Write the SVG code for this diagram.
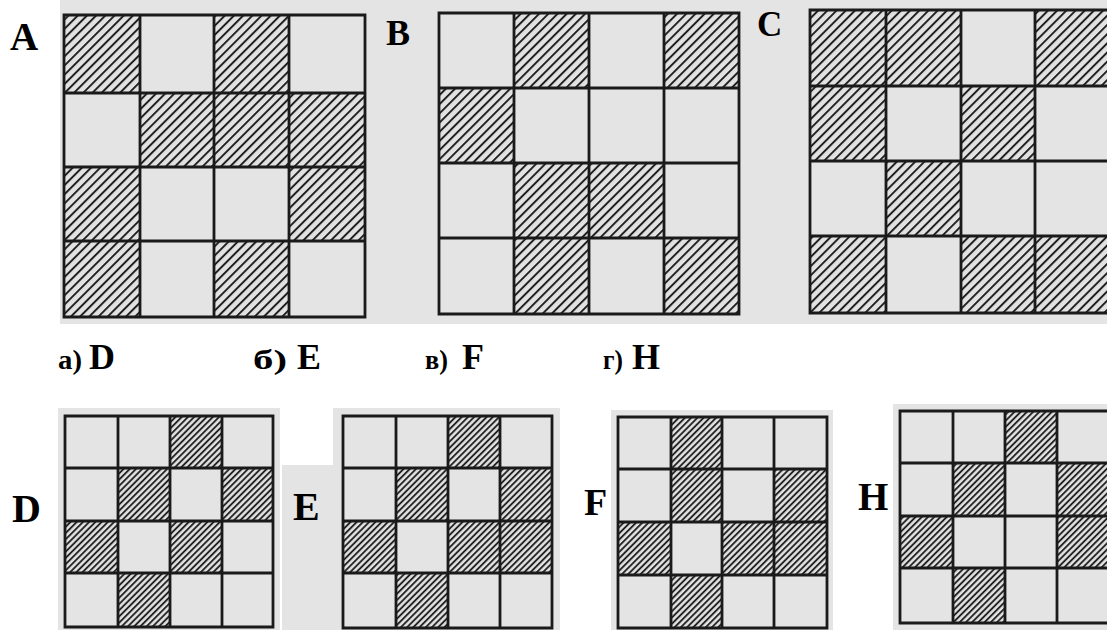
<svg xmlns="http://www.w3.org/2000/svg" width="1107" height="630" viewBox="0 0 1107 630">
<defs>
<pattern id="hatchL" width="6.5" height="6.5" patternUnits="userSpaceOnUse" patternTransform="rotate(45)">
<rect width="6.5" height="6.5" fill="#e2e2e2"/>
<line x1="1" y1="0" x2="1" y2="6.5" stroke="#1a1a1a" stroke-width="1.9"/>
</pattern>
<pattern id="hatchS" width="4.4" height="4.4" patternUnits="userSpaceOnUse" patternTransform="rotate(45)">
<rect width="4.4" height="4.4" fill="#e2e2e2"/>
<line x1="1" y1="0" x2="1" y2="4.4" stroke="#1a1a1a" stroke-width="1.8"/>
</pattern>
</defs>
<style>
.bg{fill:#e4e4e4}
.hl{fill:url(#hatchL)}
.hs{fill:url(#hatchS)}
.grid{fill:none;stroke:#1a1a1a;stroke-width:2.8}
.lbl{font-family:"Liberation Serif","Times New Roman",serif;font-weight:bold;fill:#000}
</style>
<rect width="1107" height="630" fill="#ffffff"/>
<g id="background">
<rect class="bg" x="60" y="0" width="1047" height="324"/>
<rect class="bg" x="58" y="408" width="222" height="222"/>
<path class="bg" d="M333,408H560V630H282V465H333Z"/>
<rect class="bg" x="611" y="410" width="222" height="220"/>
<rect class="bg" x="893" y="404" width="214" height="226"/>
</g>
<g id="fig-A">
<text class="lbl" x="10" y="50" font-size="39">A</text>
<rect class="hl" x="64" y="15" width="76" height="78"/>
<rect class="hl" x="214" y="15" width="75" height="78"/>
<rect class="hl" x="140" y="93" width="74" height="74"/>
<rect class="hl" x="214" y="93" width="75" height="74"/>
<rect class="hl" x="289" y="93" width="76" height="74"/>
<rect class="hl" x="64" y="167" width="76" height="74"/>
<rect class="hl" x="289" y="167" width="76" height="74"/>
<rect class="hl" x="64" y="241" width="76" height="76"/>
<rect class="hl" x="214" y="241" width="75" height="76"/>
<path class="grid" d="M64,15H365V317H64Z M140,15V317 M214,15V317 M289,15V317 M64,93H365 M64,167H365 M64,241H365"/>
</g>
<g id="fig-B">
<text class="lbl" x="386" y="45" font-size="36">B</text>
<rect class="hl" x="514" y="13" width="75" height="75"/>
<rect class="hl" x="664" y="13" width="75" height="75"/>
<rect class="hl" x="439" y="88" width="75" height="75"/>
<rect class="hl" x="514" y="163" width="75" height="75"/>
<rect class="hl" x="589" y="163" width="75" height="75"/>
<rect class="hl" x="514" y="238" width="75" height="76"/>
<rect class="hl" x="664" y="238" width="75" height="76"/>
<path class="grid" d="M439,13H739V314H439Z M514,13V314 M589,13V314 M664,13V314 M439,88H739 M439,163H739 M439,238H739"/>
</g>
<g id="fig-C">
<text class="lbl" x="757" y="36" font-size="35">C</text>
<rect class="hl" x="810" y="10" width="76" height="76"/>
<rect class="hl" x="886" y="10" width="75" height="76"/>
<rect class="hl" x="1035" y="10" width="75" height="76"/>
<rect class="hl" x="810" y="86" width="76" height="75"/>
<rect class="hl" x="961" y="86" width="74" height="75"/>
<rect class="hl" x="886" y="161" width="75" height="75"/>
<rect class="hl" x="810" y="236" width="76" height="77"/>
<rect class="hl" x="961" y="236" width="74" height="77"/>
<rect class="hl" x="1035" y="236" width="75" height="77"/>
<path class="grid" d="M810,10H1110V313H810Z M886,10V313 M961,10V313 M1035,10V313 M810,86H1110 M810,161H1110 M810,236H1110"/>
</g>
<g id="options">
<text class="lbl" x="58" y="369" font-size="28" textLength="24" lengthAdjust="spacingAndGlyphs">а)</text>
<text class="lbl" x="89" y="369" font-size="36">D</text>
<text class="lbl" x="253" y="369" font-size="28" textLength="34" lengthAdjust="spacingAndGlyphs">б)</text>
<text class="lbl" x="297" y="369" font-size="36">E</text>
<text class="lbl" x="425" y="369" font-size="28" textLength="23" lengthAdjust="spacingAndGlyphs">в)</text>
<text class="lbl" x="462" y="369" font-size="36">F</text>
<text class="lbl" x="603" y="369" font-size="28" textLength="20" lengthAdjust="spacingAndGlyphs">г)</text>
<text class="lbl" x="632" y="369" font-size="36">H</text>
</g>
<g id="fig-D">
<text class="lbl" x="12" y="522" font-size="40">D</text>
<rect class="hs" x="170" y="416" width="52" height="52"/>
<rect class="hs" x="118" y="468" width="52" height="53"/>
<rect class="hs" x="222" y="468" width="51" height="53"/>
<rect class="hs" x="65" y="521" width="53" height="52"/>
<rect class="hs" x="170" y="521" width="52" height="52"/>
<rect class="hs" x="118" y="573" width="52" height="54"/>
<path class="grid" d="M65,416H273V627H65Z M118,416V627 M170,416V627 M222,416V627 M65,468H273 M65,521H273 M65,573H273"/>
</g>
<g id="fig-E">
<text class="lbl" x="293" y="520" font-size="40">E</text>
<rect class="hs" x="448" y="416" width="52" height="52"/>
<rect class="hs" x="396" y="468" width="52" height="53"/>
<rect class="hs" x="500" y="468" width="52" height="53"/>
<rect class="hs" x="343" y="521" width="53" height="52"/>
<rect class="hs" x="448" y="521" width="52" height="52"/>
<rect class="hs" x="500" y="521" width="52" height="52"/>
<rect class="hs" x="396" y="573" width="52" height="55"/>
<path class="grid" d="M343,416H552V628H343Z M396,416V628 M448,416V628 M500,416V628 M343,468H552 M343,521H552 M343,573H552"/>
</g>
<g id="fig-F">
<text class="lbl" x="584" y="515" font-size="38">F</text>
<rect class="hs" x="671" y="417" width="51" height="52"/>
<rect class="hs" x="671" y="469" width="51" height="53"/>
<rect class="hs" x="774" y="469" width="53" height="53"/>
<rect class="hs" x="618" y="522" width="53" height="53"/>
<rect class="hs" x="722" y="522" width="52" height="53"/>
<rect class="hs" x="774" y="522" width="53" height="53"/>
<rect class="hs" x="671" y="575" width="51" height="53"/>
<path class="grid" d="M618,417H827V628H618Z M671,417V628 M722,417V628 M774,417V628 M618,469H827 M618,522H827 M618,575H827"/>
</g>
<g id="fig-H">
<text class="lbl" x="858" y="510" font-size="39">H</text>
<rect class="hs" x="1005" y="411" width="52" height="52"/>
<rect class="hs" x="953" y="463" width="52" height="53"/>
<rect class="hs" x="1057" y="463" width="52" height="53"/>
<rect class="hs" x="900" y="516" width="53" height="52"/>
<rect class="hs" x="1057" y="516" width="52" height="52"/>
<rect class="hs" x="953" y="568" width="52" height="55"/>
<path class="grid" d="M900,411H1109V623H900Z M953,411V623 M1005,411V623 M1057,411V623 M900,463H1109 M900,516H1109 M900,568H1109"/>
</g>
</svg>
